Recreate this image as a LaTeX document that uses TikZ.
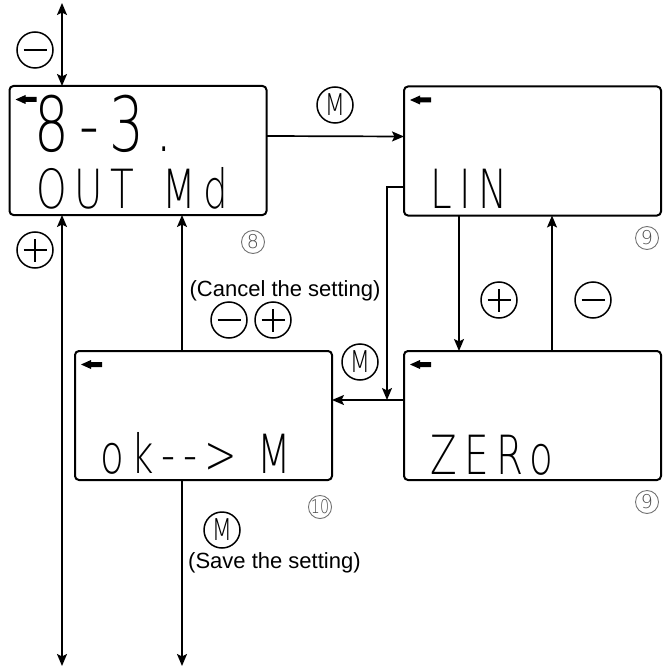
\documentclass[tikz,border=0pt]{standalone}
\usepackage{fontspec}
\setmainfont{Liberation Sans}
\newfontfamily\lcdfont[FakeStretch=0.72, LetterSpace=14]{DejaVu Sans ExtraLight}
\newfontfamily\thinfont{DejaVu Sans ExtraLight}
\usetikzlibrary{arrows.meta}

\begin{document}
\begin{tikzpicture}[
    x=1pt, y=-1pt,
    lcd/.style={draw, line width=2pt, rounded corners=4pt, outer sep=0pt,
                inner sep=0pt, minimum width=257pt, minimum height=129pt},
    seg/.style={font=\lcdfont\fontsize{54}{54}\selectfont, inner sep=0pt, anchor=base west},
    bigseg/.style={font=\lcdfont\fontsize{76}{76}\selectfont, inner sep=0pt, anchor=base west},
    btn/.style={draw, circle, line width=1.5pt, minimum size=36pt, inner sep=0pt},
    btnminus/.style={btn, path picture={
        \draw[line width=1.5pt] ([xshift=-11.5pt]path picture bounding box.center)
            -- ([xshift=11.5pt]path picture bounding box.center);}},
    btnplus/.style={btn, path picture={
        \draw[line width=1.5pt] ([xshift=-11.5pt]path picture bounding box.center)
            -- ([xshift=11.5pt]path picture bounding box.center)
            ([yshift=-11.5pt]path picture bounding box.center)
            -- ([yshift=11.5pt]path picture bounding box.center);}},
    btnm/.style={btn, font=\thinfont\fontsize{30}{30}\selectfont},
    tag/.style={draw=black!55, text=black!70, circle, line width=0.9pt,
                minimum size=23pt, inner sep=0pt, font=\thinfont\fontsize{19}{19}\selectfont},
    flow/.style={-{Stealth[length=12pt,width=10pt,inset=2.5pt]}, line width=1.7pt},
    both/.style={{Stealth[length=12pt,width=10pt,inset=2.5pt]}-{Stealth[length=12pt,width=10pt,inset=2.5pt]}, line width=1.7pt},
    note/.style={font=\fontsize{22}{26}\selectfont, inner sep=0pt}]

    \useasboundingbox (0,0) rectangle (664,668);

    \node[lcd] (outmd) at (138,150.5) {};
    \node[lcd] (lin)   at (532.5,151) {};
    \node[lcd] (okm)   at (203.5,415.5) {};
    \node[lcd] (zero)  at (532.5,415.5) {};

    \foreach \b in {outmd,lin,okm,zero}
      \fill ([shift={(6,13.5)}]\b.north west) -- ++(10,-4.5) -- ++(0,2) -- ++(11,0)
            -- ++(0,5) -- ++(-11,0) -- ++(0,2) -- cycle;

    \node[bigseg] (outmdnum) at (34,152) {8-3.};
    \node[seg] (outmdtxt) at (36,208) {OUT\hspace{8pt} Md};
    \node[seg] (lintxt)   at (430,208) {LIN};
    \node[seg] (okmtxt)   at (100,473) {ok--> M};
    \node[seg] (zerotxt)  at (430,474) {ZERo};

    \node[btnminus] (minusA) at (35,50) {};
    \node[btnplus]  (plusA)  at (35,250) {};
    \node[btnm]     (mA)     at (335,105) {\scalebox{0.8}[1]{M}};
    \node[btnminus] (minusC) at (229,320) {};
    \node[btnplus]  (plusC)  at (273,320) {};
    \node[btnm]     (mC)     at (360,362) {\scalebox{0.8}[1]{M}};
    \node[btnplus]  (plusB)  at (499,300) {};
    \node[btnminus] (minusB) at (593,300) {};
    \node[btnm]     (mS)     at (222,530) {\scalebox{0.8}[1]{M}};

    \node[tag] (tag8)  at (253,242) {8};
    \node[tag] (tag9a) at (647,238) {9};
    \node[tag] (tag9b) at (647,502) {9};
    \node[tag] (tag10) at (320,507) {\scalebox{0.75}[1]{10}};

    \node[note] (cancel) at (285,291) {(Cancel the setting)};
    \node[note, anchor=west] (save) at (188,563) {(Save the setting)};

    \coordinate (topend) at (62,3);
    \coordinate (leftend) at (62,666);
    \coordinate (saveend) at (182,666);
    \coordinate (jn) at (387,400);

    \draw[both] (topend) -- (topend |- outmd.north);
    \draw[both] (outmd.south -| leftend) -- (leftend);
    \draw[flow] ([yshift=14.5pt]outmd.east) -- ([yshift=14.5pt]lin.west);
    \draw[flow] ([yshift=-36pt]lin.west) -| (jn);
    \draw[flow] ([yshift=15.5pt]zero.west) -- ([yshift=15.5pt]okm.east);
    \draw[flow] ([xshift=55pt]lin.south west) -- ([xshift=55pt]zero.north west);
    \draw[flow] ([xshift=148pt]zero.north west) -- ([xshift=148pt]lin.south west);
    \draw[flow] ([xshift=107pt]okm.north west) -- ([xshift=107pt]okm.north west |- outmd.south);
    \draw[flow] ([xshift=107pt]okm.south west) -- (saveend);
  \end{tikzpicture}
\end{document}
